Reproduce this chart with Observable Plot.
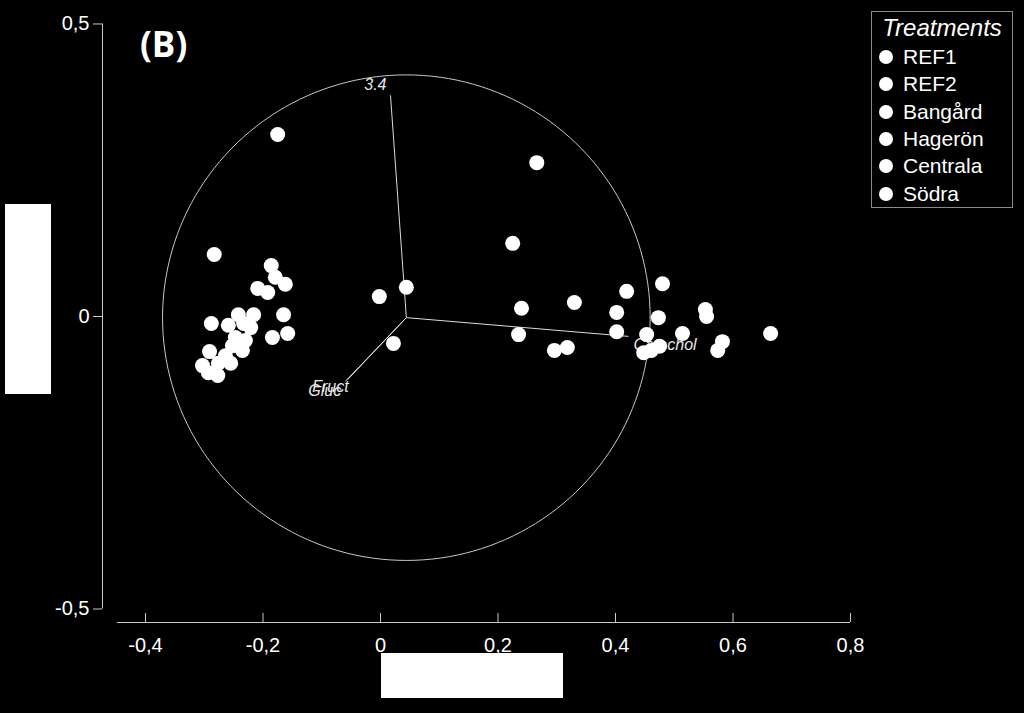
<!DOCTYPE html>
<html><head><meta charset="utf-8">
<script src="https://cdn.jsdelivr.net/npm/d3@7"></script>
<script src="https://cdn.jsdelivr.net/npm/@observablehq/plot@0.6"></script>
<style>
html,body{margin:0;padding:0;background:#000;}
#wrap{position:relative;width:1024px;height:713px;overflow:hidden;background:#000;font-family:"Liberation Sans",Arial,sans-serif;}
#wrap svg{position:absolute;left:0;top:0;}
#panel{position:absolute;left:140px;top:25px;font:bold 35px "Open Sans",sans-serif;color:#fff;line-height:1.1;}
#legend{position:absolute;left:871px;top:11px;width:142px;height:197px;border:1.5px solid #8a8a8a;box-sizing:border-box;color:#fff;}
#legend .title{position:absolute;left:0;right:0;top:2px;height:28px;line-height:28px;text-align:center;font-style:italic;font-size:24px;}
#legend .row{position:absolute;left:0;height:26px;line-height:26px;font-size:21px;}
#legend .sw{position:absolute;left:7px;top:6px;width:14px;height:14px;border-radius:50%;background:#fff;}
#legend .lab{position:absolute;left:31px;top:0;white-space:nowrap;}
.box{position:absolute;background:#fff;}
</style>
</head><body>
<div id="wrap"></div>
<script>
// ---- data ----
const treatments = ["REF1", "REF2", "Bangård", "Hagerön", "Centrala", "Södra"];

const pointX = [
  -0.175, -0.283, -0.186, -0.179, -0.162, -0.209, -0.192, -0.165, -0.158,
  -0.184, -0.288, -0.291, -0.242, -0.216, -0.259, -0.233, -0.221, -0.247,
  -0.230, -0.252, -0.235, -0.264, -0.276, -0.303, -0.293, -0.277, -0.255,
  -0.002, 0.044, 0.022,
  0.266, 0.225, 0.240, 0.330, 0.419, 0.480, 0.402, 0.473, 0.235,
  0.402, 0.296, 0.318, 0.453, 0.514, 0.553, 0.555, 0.664, 0.582,
  0.574, 0.448, 0.461, 0.475
];
const pointY = [
  0.311, 0.106, 0.087, 0.067, 0.055, 0.048, 0.041, 0.003, -0.029,
  -0.036, -0.012, -0.060, 0.003, 0.003, -0.015, -0.012, -0.019, -0.036,
  -0.041, -0.050, -0.058, -0.067, -0.080, -0.084, -0.096, -0.101, -0.080,
  0.034, 0.050, -0.046,
  0.263, 0.125, 0.014, 0.024, 0.043, 0.056, 0.007, -0.002, -0.031,
  -0.026, -0.058, -0.053, -0.031, -0.029, 0.012, 0.000, -0.029, -0.043,
  -0.058, -0.062, -0.058, -0.051
];
const pointGroup = [
  "REF1", "REF1", "REF1", "REF1", "REF1", "REF1", "REF1", "REF1", "REF1",
  "REF2", "REF2", "REF2", "REF2", "REF2", "REF2", "REF2", "REF2", "REF2",
  "Bangård", "Bangård", "Bangård", "Bangård", "Bangård", "Bangård", "Bangård", "Bangård", "Bangård",
  "Hagerön", "Hagerön", "Hagerön",
  "Hagerön", "Hagerön", "Hagerön", "Hagerön", "Centrala", "Centrala", "Centrala", "Centrala", "Centrala",
  "Centrala", "Centrala", "Centrala", "Södra", "Södra", "Södra", "Södra", "Södra", "Södra",
  "Södra", "Södra", "Södra", "Södra"
];

const vectorNames = ["3.4", "Catechol", "Fruct", "Gluc"];
const vectorX = [0.017, 0.422, -0.056, -0.060];
const vectorY = [0.378, -0.034, -0.108, -0.111];
const vectorOrigin = [0.044, -0.002];
const circleRadius = 0.415;

const xTicks = [-0.4, -0.2, 0, 0.2, 0.4, 0.6, 0.8];
const yTicks = [-0.5, 0, 0.5];
const xDomain = [-0.4732, 0.8170];
const yDomain = [-0.5231, 0.5145];
const xAxisExtent = [-0.448, 0.8];
const yAxisExtent = [-0.5, 0.5];

// ---- build tables ----
const points = pointX.map((x, i) => ({x, y: pointY[i], treatment: pointGroup[i]}));
const vectors = vectorNames.map((name, i) => ({name, x1: vectorOrigin[0], y1: vectorOrigin[1], x2: vectorX[i], y2: vectorY[i]}));
const circle = d3.range(0, 361, 2).map(a => ({
  x: vectorOrigin[0] + circleRadius * Math.cos(a * Math.PI / 180),
  y: vectorOrigin[1] + circleRadius * Math.sin(a * Math.PI / 180)
}));

const fmt = d => d === 0 ? "0" : d.toFixed(1).replace(".", ",");
const axisColor = "#c8c8c8";
const labelFont = {fontSize: 16, fontStyle: "italic", fill: "#e8e8e8"};
const byName = n => vectors.filter(v => v.name === n);

const chart = Plot.plot({
  width: 1024,
  height: 713,
  marginLeft: 102,
  marginRight: 164,
  marginTop: 15,
  marginBottom: 91,
  x: {domain: xDomain},
  y: {domain: yDomain},
  style: {background: "transparent", color: "white", fontFamily: "'Liberation Sans', Arial, sans-serif"},
  marks: [
    Plot.ruleX([xDomain[0]], {y1: yAxisExtent[0], y2: yAxisExtent[1], stroke: axisColor}),
    Plot.ruleY([yDomain[0]], {x1: xAxisExtent[0], x2: xAxisExtent[1], stroke: axisColor}),
    Plot.axisY(yTicks, {anchor: "left", tickSize: 9, tickPadding: 4, tickFormat: fmt, stroke: axisColor, fill: "white", fontSize: 20}),
    Plot.axisX(xTicks, {anchor: "bottom", tickSize: -9, fill: "none", stroke: axisColor}),
    Plot.axisX(xTicks, {anchor: "bottom", tickSize: 0, tickPadding: 15, tickFormat: fmt, fill: "white", fontSize: 20}),
    Plot.line(circle, {x: "x", y: "y", stroke: axisColor, strokeWidth: 1}),
    Plot.link(vectors, {x1: "x1", y1: "y1", x2: "x2", y2: "y2", stroke: "#dcdcdc", strokeWidth: 1}),
    Plot.text(byName("3.4"), {x: "x2", y: "y2", text: "name", textAnchor: "end", dx: -4, dy: -10, ...labelFont}),
    Plot.text(byName("Catechol"), {x: "x2", y: "y2", text: "name", textAnchor: "start", dx: 5, dy: 9, ...labelFont}),
    Plot.text(byName("Fruct"), {x: "x2", y: "y2", text: "name", textAnchor: "end", dx: 1, dy: 7, ...labelFont}),
    Plot.text(byName("Gluc"), {x: "x2", y: "y2", text: "name", textAnchor: "end", dx: -4, dy: 9, ...labelFont}),
    Plot.dot(points, {x: "x", y: "y", r: 7.5, fill: "white", stroke: null})
  ]
});

const wrap = document.getElementById("wrap");
wrap.appendChild(chart);

const panel = document.createElement("div");
panel.id = "panel";
panel.textContent = "(B)";
wrap.appendChild(panel);

const legend = document.createElement("div");
legend.id = "legend";
const title = document.createElement("div");
title.className = "title";
title.textContent = "Treatments";
legend.appendChild(title);
treatments.forEach((t, i) => {
  const row = document.createElement("div");
  row.className = "row";
  row.style.top = (32 + i * 27.3) + "px";
  const sw = document.createElement("div");
  sw.className = "sw";
  const lab = document.createElement("div");
  lab.className = "lab";
  lab.textContent = t;
  row.appendChild(sw);
  row.appendChild(lab);
  legend.appendChild(row);
});
wrap.appendChild(legend);

const boxY = document.createElement("div");
boxY.className = "box";
Object.assign(boxY.style, {left: "5px", top: "204px", width: "46px", height: "190px"});
wrap.appendChild(boxY);
const boxX = document.createElement("div");
boxX.className = "box";
Object.assign(boxX.style, {left: "381px", top: "653px", width: "182px", height: "45px"});
wrap.appendChild(boxX);
</script>
</body></html>
